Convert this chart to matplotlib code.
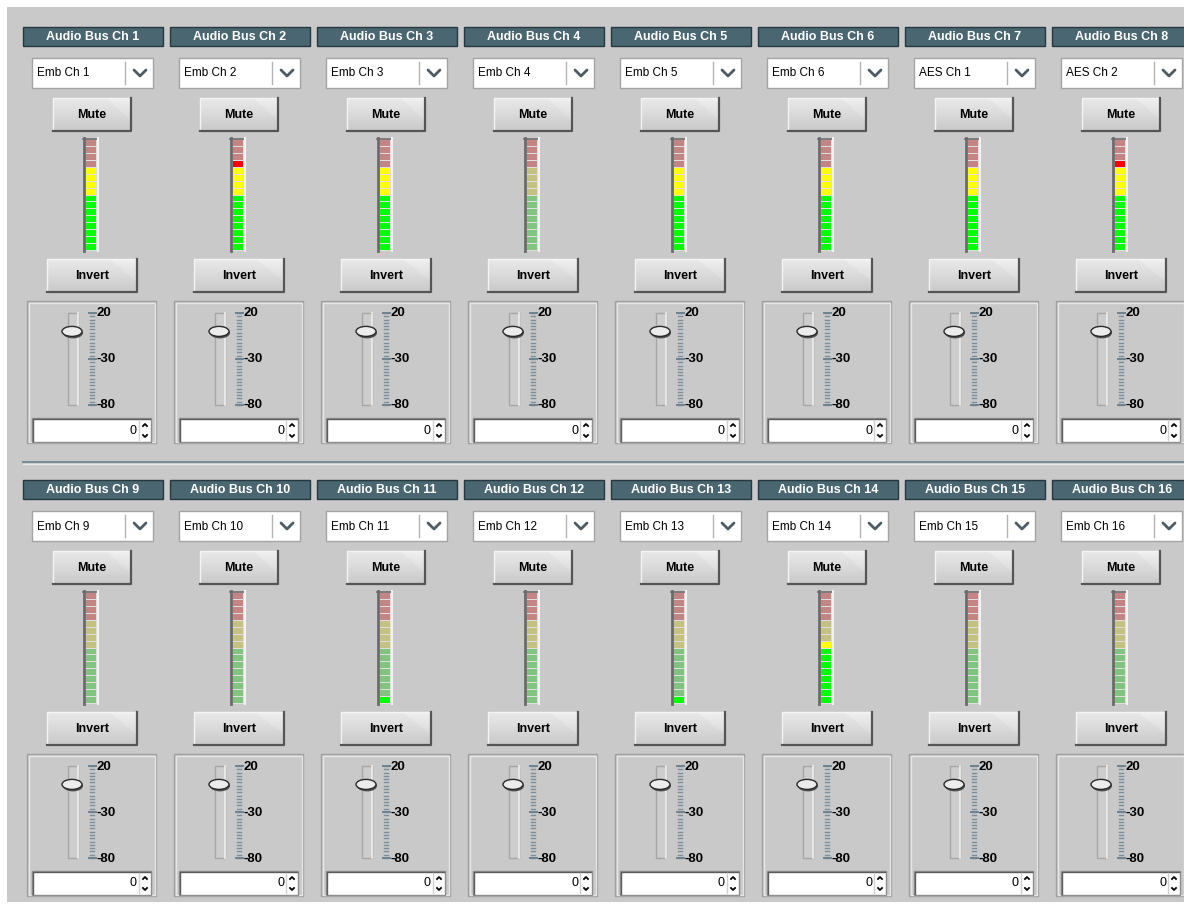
import numpy as np
import matplotlib.pyplot as plt
from matplotlib.patches import Rectangle, Ellipse

# Channel strip data
channels = ["Audio Bus Ch 1", "Audio Bus Ch 2", "Audio Bus Ch 3", "Audio Bus Ch 4",
            "Audio Bus Ch 5", "Audio Bus Ch 6", "Audio Bus Ch 7", "Audio Bus Ch 8",
            "Audio Bus Ch 9", "Audio Bus Ch 10", "Audio Bus Ch 11", "Audio Bus Ch 12",
            "Audio Bus Ch 13", "Audio Bus Ch 14", "Audio Bus Ch 15", "Audio Bus Ch 16"]
sources = ["Emb Ch 1", "Emb Ch 2", "Emb Ch 3", "Emb Ch 4", "Emb Ch 5", "Emb Ch 6",
           "AES Ch 1", "AES Ch 2", "Emb Ch 9", "Emb Ch 10", "Emb Ch 11", "Emb Ch 12",
           "Emb Ch 13", "Emb Ch 14", "Emb Ch 15", "Emb Ch 16"]
# lit meter segments counted from the bottom (16 segments per meter)
meter_levels = [12, 13, 12, 0, 12, 12, 12, 13, 0, 0, 1, 0, 1, 9, 0, 0]
fader_values = [0, 0, 0, 0, 0, 0, 0, 0, 0, 0, 0, 0, 0, 0, 0, 0]
scale_values = [20, -30, -80]
scale_labels = ["20", "-30", "-80"]

# Meter zones: segments 0-7 green, 8-11 yellow, 12-15 red
zone_lit = ["#00ff00"] * 8 + ["#ffff00"] * 4 + ["#ff0000"] * 4
zone_dim = ["#80c480"] * 8 + ["#c4c280"] * 4 + ["#c48484"] * 4

W, H = 1184, 907
BG = "#c9c9c9"
FONT = "Liberation Sans"

fig = plt.figure(figsize=(W / 100, H / 100), dpi=100)
fig.patch.set_facecolor("white")
ax = fig.add_axes([0, 0, 1, 1])
ax.axis("off")
ax.add_patch(Rectangle((7, 7), W - 7, 895, fc=BG, ec="none", zorder=0))


def button(x, y, w, h, label):
    rows = np.arange(32)[:, None]
    cols = np.arange(64)[None, :]
    grad = np.linspace(0.91, 0.79, 32)[:, None] * np.ones((1, 64))
    grad = np.where(cols > 44 + rows * 0.9, grad + 0.025, grad)
    ax.imshow(grad, cmap="gray", vmin=0, vmax=1, extent=(x, x + w, y + h, y),
              aspect="auto", interpolation="bilinear", zorder=2)
    ax.plot([x, x, x + w], [y + h, y, y], color="#f4f4f4", lw=1, zorder=3)
    ax.plot([x, x + w, x + w], [y + h, y + h, y], color="#555555", lw=1.6, zorder=3)
    ax.text(x + w / 2, y + h / 2 + 0.5, label, ha="center", va="center",
            fontsize=9, fontweight="bold", family=FONT, color="black", zorder=4)


def meter(x, y, w, h, level):
    ax.add_patch(Rectangle((x, y), w, h, fc="#dedede", ec="none", zorder=2))
    n = len(zone_lit)
    seg = (h - 2) / n
    for k in range(n):
        color = zone_lit[k] if k < level else zone_dim[k]
        top = y + h - 1 - (k + 1) * seg
        ax.add_patch(Rectangle((x + 2.5, top + 1), w - 4.5, seg - 1,
                               fc=color, ec="none", zorder=3))
    ax.plot([x + 1, x + 1], [y, y + h], color="#6a6a6a", lw=2, zorder=4)
    ax.plot([x, x + w], [y + 0.5, y + 0.5], color="#6a6a6a", lw=1.2, zorder=4)
    ax.plot([x + w - 0.5, x + w - 0.5], [y, y + h], color="#f2f2f2", lw=1.5, zorder=4)


def strip(x0, y0, i):
    # header
    ax.add_patch(Rectangle((x0, y0), 140, 19, fc="#4a6670", ec="#263840",
                           lw=1, zorder=2))
    ax.text(x0 + 70, y0 + 10, channels[i], ha="center", va="center", color="white",
            fontsize=9, fontweight="bold", family=FONT, zorder=3)
    # source dropdown
    ax.add_patch(Rectangle((x0 + 9, y0 + 31), 121, 30, fc="white", ec="#a4a4a4",
                           lw=1, zorder=2))
    ax.plot([x0 + 102, x0 + 102], [y0 + 35, y0 + 57], color="#b4b4b4", lw=1, zorder=3)
    ax.plot([x0 + 111, x0 + 117, x0 + 123], [y0 + 43, y0 + 49, y0 + 43],
            color="#4e5c66", lw=2, zorder=3, solid_capstyle="round")
    ax.text(x0 + 14, y0 + 46.5, sources[i], ha="left", va="center", color="black",
            fontsize=8.5, family=FONT, zorder=3)
    # mute / level meter / invert
    button(x0 + 30, y0 + 71, 78, 33, "Mute")
    meter(x0 + 60, y0 + 111, 15, 113, meter_levels[i])
    button(x0 + 24, y0 + 232, 90, 33, "Invert")
    # fader panel
    ax.add_patch(Rectangle((x0 + 4, y0 + 274), 129, 142, fc=BG, ec="#a0a0a0",
                           lw=1, zorder=2))
    ax.add_patch(Rectangle((x0 + 5.5, y0 + 275.5), 126, 139, fc="none", ec="#e6e6e6",
                           lw=1, zorder=2))
    t_top, t_bot = y0 + 286, y0 + 378
    ax.add_patch(Rectangle((x0 + 45, t_top), 10, t_bot - t_top, fc="#cdcdcd",
                           ec="#a6a6a6", lw=1, zorder=3))
    ax.plot([x0 + 55, x0 + 55], [t_top, t_bot], color="#f0f0f0", lw=1.2, zorder=3)
    # tick scale: top half 20..-30, bottom half -30..-80
    for yt in np.linspace(t_top, t_bot, 29):
        ax.plot([x0 + 67, x0 + 71], [yt, yt], color="#7a8e9c", lw=1.0, zorder=3)
    for v, lab in zip(scale_values, scale_labels):
        yv = t_top + np.interp(v, [-80, -30, 20], [1, 0.5, 0]) * (t_bot - t_top)
        ax.plot([x0 + 66, x0 + 73], [yv, yv], color="#6e8290", lw=1.4, zorder=3)
        ax.text(x0 + 73.5, yv + 0.5, lab, ha="left", va="center", fontsize=9.5,
                fontweight="bold", family=FONT, color="black", zorder=4)
    # fader knob
    yk = t_top + np.interp(fader_values[i], [-80, -30, 20], [1, 0.5, 0]) * (t_bot - t_top)
    ax.add_patch(Ellipse((x0 + 50, yk + 1.5), 20, 11, fc="#505050", ec="none", zorder=4))
    ax.add_patch(Ellipse((x0 + 49, yk), 20, 10, fc="#ececec", ec="#2a2a2a",
                         lw=1, zorder=5))
    # spin box
    ax.add_patch(Rectangle((x0 + 9, y0 + 391), 119, 24, fc="white", ec="#8e8e8e",
                           lw=1, zorder=3))
    ax.plot([x0 + 10, x0 + 10, x0 + 127], [y0 + 414, y0 + 392, y0 + 392],
            color="#5c5c5c", lw=1, zorder=4)
    ax.plot([x0 + 116, x0 + 116], [y0 + 393, y0 + 413], color="#d0d0d0", lw=1, zorder=4)
    ax.text(x0 + 114, y0 + 403.5, str(fader_values[i]), ha="right", va="center",
            fontsize=9, family=FONT, color="black", zorder=4)
    ax.plot([x0 + 120, x0 + 122, x0 + 124], [y0 + 399, y0 + 397, y0 + 399],
            color="black", lw=1.3, zorder=4)
    ax.plot([x0 + 120, x0 + 122, x0 + 124], [y0 + 408, y0 + 410, y0 + 408],
            color="black", lw=1.3, zorder=4)


for i in range(len(channels)):
    row, col = divmod(i, 8)
    strip(23 + col * 147, 27 + row * 453, i)

# divider between the two rows
ax.plot([23, W], [462, 462], color="#7a8e98", lw=1.5, zorder=2)
ax.plot([23, W], [463.5, 463.5], color="#e8e8e8", lw=1, zorder=2)

ax.set_xlim(0, W)
ax.set_ylim(H, 0)
fig.savefig("out.png", dpi=100, facecolor=fig.get_facecolor())
